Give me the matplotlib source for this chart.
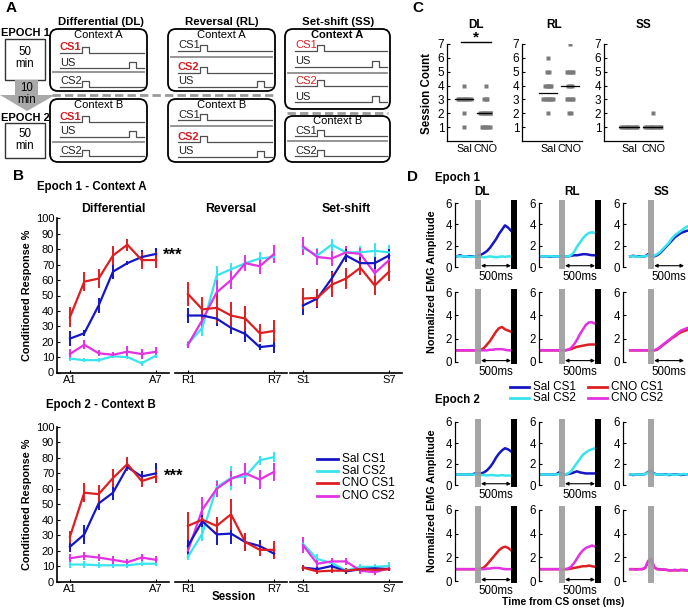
import numpy as np
import matplotlib
matplotlib.use('Agg')
import matplotlib.pyplot as plt
from matplotlib.patches import FancyBboxPatch, Rectangle, Polygon

plt.rcParams['font.family'] = ['Liberation Sans', 'DejaVu Sans']

# ---------------- DATA ----------------
SESSIONS = [1, 2, 3, 4, 5, 6, 7]
BLOCK_TICKS = [['A1', 'A7'], ['R1', 'R7'], ['S1', 'S7']]
BLOCK_TITLES = ['Differential', 'Reversal', 'Set-shift']
SERIES = ['Sal CS1', 'Sal CS2', 'CNO CS1', 'CNO CS2']

# Epoch 1 - Context A
E1_DIFF_SAL1 = [22, 25.5, 43.5, 65.5, 71, 75, 77]
E1_DIFF_SAL1_SEM = [5, 2, 5, 5, 1.5, 4.5, 4]
E1_DIFF_SAL2 = [9, 8, 8, 10.5, 10, 6, 11]
E1_DIFF_SAL2_SEM = [1.5, 1.5, 1.5, 1, 1, 1.5, 1.5]
E1_DIFF_CNO1 = [36, 59, 61, 76, 83, 73, 73]
E1_DIFF_CNO1_SEM = [6.5, 6, 6, 6, 4, 5.5, 5]
E1_DIFF_CNO2 = [12, 18, 12.5, 11.5, 13.5, 12, 13.5]
E1_DIFF_CNO2_SEM = [3, 3, 2, 1.5, 3.5, 3, 3]

E1_REV_SAL1 = [37, 37, 35, 29, 25, 16.5, 17.5]
E1_REV_SAL1_SEM = [5, 4, 4.5, 4, 5, 2, 5]
E1_REV_SAL2 = [18.5, 29, 63, 67, 71, 74, 75]
E1_REV_SAL2_SEM = [2, 5, 6, 4, 2, 4, 4]
E1_REV_CNO1 = [51, 41, 42, 37, 35, 25.5, 27]
E1_REV_CNO1_SEM = [8, 8, 10, 9, 8, 6, 7]
E1_REV_CNO2 = [18, 34, 52, 60, 71, 69, 77]
E1_REV_CNO2_SEM = [2, 5, 8, 6, 5, 5, 6]

E1_SS_SAL1 = [43.5, 48, 61, 76, 71, 71, 76]
E1_SS_SAL1_SEM = [6, 6, 5, 4, 4, 4, 4]
E1_SS_SAL2 = [81, 76, 83, 78, 78, 79, 78]
E1_SS_SAL2_SEM = [4, 5, 4, 4, 4, 5, 5]
E1_SS_CNO1 = [48, 48.5, 57, 61, 68, 56.5, 65.5]
E1_SS_CNO1_SEM = [7, 6, 8, 7, 5, 6, 6]
E1_SS_CNO2 = [82, 75, 74, 78, 77, 64.5, 73]
E1_SS_CNO2_SEM = [6, 5, 5, 4, 4, 5, 5]

# Epoch 2 - Context B
E2_DIFF_SAL1 = [22.5, 30.5, 50.5, 57.5, 74, 68, 70]
E2_DIFF_SAL1_SEM = [3.5, 6, 4, 4.5, 2.5, 3.5, 6.5]
E2_DIFF_SAL2 = [11, 11, 10.5, 10.5, 10.5, 11.5, 11.5]
E2_DIFF_SAL2_SEM = [2, 2, 2, 2, 1.5, 1.5, 1.5]
E2_DIFF_CNO1 = [29, 57.5, 56.5, 67, 76, 65, 68]
E2_DIFF_CNO1_SEM = [4, 6, 6, 6, 4.5, 4, 4]
E2_DIFF_CNO2 = [15, 16.5, 15.5, 14, 12.5, 15.5, 14]
E2_DIFF_CNO2_SEM = [2.5, 2.5, 2.5, 2.5, 2, 2.5, 2.5]

E2_REV_SAL1 = [23, 39, 30.5, 31, 25.5, 23, 18]
E2_REV_SAL1_SEM = [5, 4, 7, 7, 6, 4, 3]
E2_REV_SAL2 = [16, 31, 61, 67, 68, 78.5, 80.5]
E2_REV_SAL2_SEM = [2, 5, 5, 8, 4, 3, 3]
E2_REV_CNO1 = [36, 40, 36, 43.5, 25.5, 20.5, 20.5]
E2_REV_CNO1_SEM = [9, 2, 6, 10, 6, 4, 6]
E2_REV_CNO2 = [20, 46.5, 60, 66.5, 70, 66, 71]
E2_REV_CNO2_SEM = [3, 8, 5, 5, 7, 6, 6]

E2_SS_SAL1 = [9, 8, 10, 6.5, 8, 8.5, 8]
E2_SS_SAL1_SEM = [2, 1.5, 1.5, 1.5, 1.5, 1.5, 1.5]
E2_SS_SAL2 = [24.5, 14.5, 12, 7, 9.5, 9.5, 10]
E2_SS_SAL2_SEM = [4, 3.5, 2, 2, 2, 2, 2.5]
E2_SS_CNO1 = [9, 6.5, 7, 7, 8, 7.5, 8]
E2_SS_CNO1_SEM = [2, 1.5, 1.5, 1.5, 1.5, 1.5, 1.5]
E2_SS_CNO2 = [23.5, 11.5, 13, 13, 7, 6, 8.5]
E2_SS_CNO2_SEM = [5, 3.5, 2.5, 2.5, 2, 2, 2]

# Panel C: session count per animal
C_GROUPS = ['Sal', 'CNO']
C_DL_SAL = [1, 2, 3, 3, 3, 3, 3, 3, 3, 3, 3, 4]
C_DL_CNO = [1, 1, 1, 1, 1, 1, 2, 2, 2, 2, 2, 2, 2, 2, 3, 3, 3, 4]
C_RL_SAL = [2, 3, 3, 3, 3, 3, 3, 3, 4, 4, 4, 4, 4, 5, 5, 6]
C_RL_CNO = [2, 2, 3, 3, 3, 3, 3, 4, 4, 4, 5, 5, 5, 5, 5, 7]
C_SS_SAL = [1, 1, 1, 1, 1, 1, 1, 1, 1, 1]
C_SS_CNO = [1, 1, 1, 1, 1, 1, 1, 1, 1, 1, 2]

# Panel D: normalized EMG traces (time in ms from CS onset)
T_D = [-300, -250, -200, -150, -100, -50, 0, 50, 100, 150, 200, 250, 300, 350,
       400, 450, 500, 550, 600]
T_D_SS = T_D + [650, 700]

D_E1_DL_SAL1 = [1.0, 1.1, 1.0, 1.0, 1.0, 1.0, 1.0, 1.05, 1.15, 1.3, 1.5, 1.8, 2.2, 2.6, 3.1, 3.5, 3.9, 3.7, 3.4]
D_E1_DL_SAL2 = [1.0, 1.0, 1.0, 1.0, 0.95, 0.95, 1.0, 0.95, 0.95, 0.9, 0.95, 1.0, 0.95, 0.9, 0.95, 1.0, 0.95, 1.0, 1.0]
D_E1_RL_SAL1 = [1.0, 1.0, 1.0, 0.95, 1.0, 1.0, 1.0, 1.0, 1.0, 1.0, 1.05, 1.1, 1.1, 1.15, 1.2, 1.2, 1.15, 1.1, 1.1]
D_E1_RL_SAL2 = [1.0, 1.0, 1.0, 1.0, 1.0, 1.0, 1.0, 1.0, 1.0, 1.0, 1.1, 1.4, 1.9, 2.3, 2.7, 3.0, 3.2, 3.25, 3.2]
D_E1_SS_SAL1 = [1.0, 1.05, 1.0, 1.0, 1.0, 1.0, 1.2, 1.0, 1.0, 1.1, 1.3, 1.6, 1.9, 2.2, 2.5, 2.8, 3.0, 3.2, 3.3, 3.4, 3.4]
D_E1_SS_SAL2 = [1.0, 1.0, 1.0, 0.95, 1.0, 1.0, 1.1, 1.0, 1.05, 1.2, 1.4, 1.7, 2.0, 2.3, 2.7, 3.0, 3.2, 3.4, 3.6, 3.8, 3.8]

D_E1_DL_CNO1 = [1.0, 1.0, 1.0, 1.0, 1.0, 1.0, 1.0, 1.0, 1.05, 1.2, 1.5, 1.8, 2.2, 2.6, 2.9, 3.0, 2.8, 2.7, 2.6]
D_E1_DL_CNO2 = [1.0, 1.0, 1.0, 1.0, 1.0, 1.0, 1.0, 1.0, 1.0, 1.0, 1.0, 1.05, 1.05, 1.1, 1.1, 1.1, 1.05, 1.0, 1.0]
D_E1_RL_CNO1 = [1.0, 1.0, 1.0, 1.0, 1.0, 1.0, 1.0, 1.0, 1.0, 1.05, 1.1, 1.2, 1.3, 1.35, 1.4, 1.45, 1.5, 1.5, 1.5]
D_E1_RL_CNO2 = [1.0, 1.0, 1.0, 1.0, 1.0, 1.0, 1.0, 1.0, 1.0, 1.05, 1.2, 1.5, 1.9, 2.4, 2.8, 3.2, 3.4, 3.4, 3.3]
D_E1_SS_CNO1 = [1.0, 1.0, 1.0, 1.0, 1.0, 1.0, 1.0, 1.0, 1.0, 1.05, 1.25, 1.45, 1.65, 1.85, 2.05, 2.2, 2.4, 2.55, 2.65, 2.75, 2.8]
D_E1_SS_CNO2 = [1.0, 1.0, 1.0, 1.0, 1.0, 1.0, 1.0, 1.0, 1.0, 1.1, 1.3, 1.5, 1.7, 1.9, 2.1, 2.3, 2.5, 2.7, 2.8, 2.9, 3.0]

D_E2_DL_SAL1 = [1.0, 1.0, 1.0, 1.0, 1.0, 1.0, 1.1, 1.1, 1.1, 1.2, 1.4, 1.7, 2.1, 2.6, 3.0, 3.3, 3.5, 3.4, 3.2]
D_E2_DL_SAL2 = [1.0, 1.0, 1.0, 1.0, 1.0, 1.0, 1.0, 1.0, 0.95, 0.95, 0.9, 0.95, 0.95, 0.9, 0.9, 0.95, 0.9, 0.9, 0.9]
D_E2_RL_SAL1 = [1.0, 1.0, 1.0, 1.0, 1.0, 1.0, 1.2, 1.05, 1.0, 1.05, 1.1, 1.2, 1.3, 1.2, 1.15, 1.1, 1.1, 1.1, 1.1]
D_E2_RL_SAL2 = [1.0, 1.0, 1.0, 1.0, 1.0, 1.0, 1.05, 1.0, 1.0, 1.1, 1.3, 1.7, 2.1, 2.5, 2.9, 3.1, 3.3, 3.4, 3.5]
D_E2_SS_SAL1 = [1.0, 0.95, 1.0, 1.0, 1.0, 1.05, 1.25, 1.35, 1.1, 1.0, 1.0, 1.0, 1.0, 0.95, 1.0, 1.0, 1.0, 0.95, 1.0, 1.0, 1.0]
D_E2_SS_SAL2 = [1.0, 1.0, 1.0, 1.0, 1.0, 1.05, 1.2, 1.3, 1.05, 1.0, 1.0, 1.0, 0.95, 1.0, 1.0, 0.95, 1.0, 1.0, 1.05, 1.0, 1.0]

D_E2_DL_CNO1 = [1.0, 1.0, 1.0, 1.0, 1.0, 1.0, 1.0, 1.0, 1.05, 1.15, 1.4, 1.7, 2.0, 2.3, 2.6, 2.8, 2.9, 2.8, 2.6]
D_E2_DL_CNO2 = [1.0, 1.0, 1.0, 1.0, 1.0, 1.0, 1.0, 1.0, 1.0, 1.0, 1.05, 1.05, 1.1, 1.1, 1.1, 1.05, 1.0, 1.0, 1.0]
D_E2_RL_CNO1 = [1.0, 1.0, 1.0, 1.0, 1.0, 1.0, 1.0, 1.0, 1.0, 1.0, 1.05, 1.1, 1.15, 1.2, 1.25, 1.25, 1.3, 1.25, 1.2]
D_E2_RL_CNO2 = [1.0, 1.0, 1.0, 1.0, 1.0, 1.0, 1.0, 1.0, 1.0, 1.05, 1.2, 1.5, 1.9, 2.3, 2.6, 2.8, 2.9, 3.0, 2.9]
D_E2_SS_CNO1 = [1.0, 1.0, 1.0, 1.0, 1.0, 1.1, 1.6, 1.8, 1.15, 1.0, 1.0, 0.95, 0.95, 0.9, 0.9, 0.9, 0.9, 0.95, 0.9, 0.9, 0.9]
D_E2_SS_CNO2 = [1.0, 1.0, 0.95, 1.0, 1.0, 1.1, 1.7, 1.9, 1.2, 1.0, 0.95, 1.0, 0.95, 0.9, 0.9, 0.95, 0.9, 0.9, 0.95, 0.9, 0.9]

# ---------------- STYLE ----------------
COL = {'Sal CS1': '#1616c4', 'Sal CS2': '#38e4ee',
       'CNO CS1': '#dc1f23', 'CNO CS2': '#e232e2'}
FS = 8
FSA = 8  # schematic text

W, H = 688, 609
fig = plt.figure(figsize=(W / 100, H / 100), dpi=100)

ov = fig.add_axes([0, 0, 1, 1])
ov.set_xlim(0, W)
ov.set_ylim(H, 0)
ov.axis('off')


def px_axes(l, t, r, b):
    ax = fig.add_axes([l / W, 1 - b / H, (r - l) / W, (b - t) / H])
    ax.set_facecolor('none')
    return ax


def T(x, y, s, **kw):
    kw.setdefault('fontsize', FS)
    kw.setdefault('ha', 'center')
    kw.setdefault('va', 'center')
    ov.text(x, y, s, **kw)


# ---------------- PANEL A ----------------
T(6, 8, 'A', fontsize=11, fontweight='bold', ha='left')
T(101, 22, 'Differential (DL)', fontsize=8.2, fontweight='bold')
T(222, 22, 'Reversal (RL)', fontsize=8.2, fontweight='bold')
T(338, 22, 'Set-shift (SS)', fontsize=8.2, fontweight='bold')

T(1, 33, 'EPOCH 1', fontsize=8, fontweight='bold', ha='left')
ov.add_patch(Rectangle((5, 39), 40, 41, fill=False, ec='#333333', lw=1))
T(25, 52, '50', fontsize=8.3)
T(25, 64, 'min', fontsize=8.3)
ov.add_patch(Polygon([(15, 80), (38, 80), (38, 95), (55, 95), (27, 111), (0, 95), (15, 95)],
                     closed=True, fc='#a9a9a9', ec='none'))
T(27, 88, '10', fontsize=8.3)
T(27, 100, 'min', fontsize=8.3)
T(1, 118, 'EPOCH 2', fontsize=8, fontweight='bold', ha='left')
ov.add_patch(Rectangle((5, 123), 40, 35, fill=False, ec='#333333', lw=1))
T(25, 134, '50', fontsize=8.3)
T(25, 146, 'min', fontsize=8.3)


def ctx_box(x0, y0, x1, y1, title, rows, seps, tbold=False, ty=6):
    ov.add_patch(FancyBboxPatch((x0, y0), x1 - x0, y1 - y0,
                                boxstyle='round,pad=0,rounding_size=8',
                                fc='none', ec='black', lw=1.3))
    T((x0 + x1) / 2, y0 + ty, title, fontsize=FSA, fontweight='bold' if tbold else 'normal')
    tx = x0 + 10
    xe = x1 - 3
    for (lab, yb, kind, col, bold) in rows:
        ov.text(tx, yb - 0.5, lab, fontsize=FSA, color=col,
                fontweight='bold' if bold else 'normal', ha='left', va='bottom')
        if kind == 'cs':
            px0, pw = x0 + 32, 7
        else:
            px0, pw = x1 - 18, 7
        xs = [tx, px0, px0, px0 + pw, px0 + pw, xe]
        ys = [yb, yb, yb - 6, yb - 6, yb, yb]
        ov.plot(xs, ys, color='#505050', lw=0.9)
    for ys in seps:
        ov.plot([x0 + 3, x1 - 3], [ys, ys], color='#8c8c8c', lw=1.3)


RED = '#d42026'
K = '#222222'
ctx_box(50, 29, 147, 91, 'Context A',
        [('CS1', 53, 'cs', RED, True), ('US', 68, 'us', K, False), ('CS2', 87, 'cs', K, False)], [72])
ctx_box(50, 99, 147, 162, 'Context B',
        [('CS1', 122, 'cs', RED, True), ('US', 137, 'us', K, False), ('CS2', 156, 'cs', K, False)], [142])
ctx_box(168, 29, 275, 91, 'Context A',
        [('CS1', 51, 'cs', K, False), ('CS2', 73, 'cs', RED, True), ('US', 87, 'us', K, False)], [57])
ctx_box(168, 99, 275, 162, 'Context B',
        [('CS1', 120, 'cs', K, False), ('CS2', 142, 'cs', RED, True), ('US', 157, 'us', K, False)], [126])
ctx_box(285, 29, 390, 109, 'Context A',
        [('CS1', 51, 'cs', RED, False), ('US', 67, 'us', K, False),
         ('CS2', 86, 'cs', RED, False), ('US', 102, 'us', K, False)], [73], tbold=True, ty=5.5)
ctx_box(285, 116, 390, 162, 'Context B',
        [('CS1', 136, 'cs', K, False), ('CS2', 156, 'cs', K, False)], [141], ty=5.5)
ov.plot([52, 273], [95, 95], color='#9a9a9a', lw=2, dashes=(3, 1.5))
ov.plot([287, 388], [112.5, 112.5], color='#9a9a9a', lw=2, dashes=(3, 1.5))

# ---------------- PANEL B ----------------
T(13, 176, 'B', fontsize=11, fontweight='bold', ha='left')
T(37, 187, 'Epoch 1 - Context A', fontsize=8.3, fontweight='bold', ha='left')
T(46, 405, 'Epoch 2 - Context B', fontsize=8.3, fontweight='bold', ha='left')

E1 = [
    {'Sal CS1': (E1_DIFF_SAL1, E1_DIFF_SAL1_SEM), 'Sal CS2': (E1_DIFF_SAL2, E1_DIFF_SAL2_SEM),
     'CNO CS1': (E1_DIFF_CNO1, E1_DIFF_CNO1_SEM), 'CNO CS2': (E1_DIFF_CNO2, E1_DIFF_CNO2_SEM)},
    {'Sal CS1': (E1_REV_SAL1, E1_REV_SAL1_SEM), 'Sal CS2': (E1_REV_SAL2, E1_REV_SAL2_SEM),
     'CNO CS1': (E1_REV_CNO1, E1_REV_CNO1_SEM), 'CNO CS2': (E1_REV_CNO2, E1_REV_CNO2_SEM)},
    {'Sal CS1': (E1_SS_SAL1, E1_SS_SAL1_SEM), 'Sal CS2': (E1_SS_SAL2, E1_SS_SAL2_SEM),
     'CNO CS1': (E1_SS_CNO1, E1_SS_CNO1_SEM), 'CNO CS2': (E1_SS_CNO2, E1_SS_CNO2_SEM)},
]
E2 = [
    {'Sal CS1': (E2_DIFF_SAL1, E2_DIFF_SAL1_SEM), 'Sal CS2': (E2_DIFF_SAL2, E2_DIFF_SAL2_SEM),
     'CNO CS1': (E2_DIFF_CNO1, E2_DIFF_CNO1_SEM), 'CNO CS2': (E2_DIFF_CNO2, E2_DIFF_CNO2_SEM)},
    {'Sal CS1': (E2_REV_SAL1, E2_REV_SAL1_SEM), 'Sal CS2': (E2_REV_SAL2, E2_REV_SAL2_SEM),
     'CNO CS1': (E2_REV_CNO1, E2_REV_CNO1_SEM), 'CNO CS2': (E2_REV_CNO2, E2_REV_CNO2_SEM)},
    {'Sal CS1': (E2_SS_SAL1, E2_SS_SAL1_SEM), 'Sal CS2': (E2_SS_SAL2, E2_SS_SAL2_SEM),
     'CNO CS1': (E2_SS_CNO1, E2_SS_CNO1_SEM), 'CNO CS2': (E2_SS_CNO2, E2_SS_CNO2_SEM)},
]


def draw_B(top, bottom, data, titles):
    lefts = [57, 175, 290]
    for i in range(3):
        ax = px_axes(lefts[i], top, lefts[i] + 112, bottom)
        for key in ['Sal CS2', 'CNO CS2', 'Sal CS1', 'CNO CS1']:
            v, e = data[i][key]
            ax.errorbar(SESSIONS, v, yerr=e, color=COL[key], lw=1.6, elinewidth=1.4, capsize=0)
        ax.set_xlim(0.1, 7.9)
        ax.set_ylim(0, 100)
        for s in ['top', 'right']:
            ax.spines[s].set_visible(False)
        ax.spines['bottom'].set_linewidth(1.2)
        ax.spines['left'].set_linewidth(1.2)
        ax.set_xticks([1, 7])
        ax.set_xticklabels(BLOCK_TICKS[i])
        if i == 0:
            ax.set_yticks(range(0, 101, 10))
            ax.tick_params(axis='y', direction='in', length=2.5, width=0.8, labelsize=FS, pad=2)
        else:
            ax.spines['left'].set_visible(False)
            ax.set_yticks([])
        ax.tick_params(axis='x', direction='in', length=2.5, width=0.8, labelsize=FS, pad=2)
        if titles:
            ov.text(lefts[i] + 56, 209, BLOCK_TITLES[i], fontsize=8.8, fontweight='bold',
                    ha='center', va='center')


draw_B(218.5, 372.5, E1, True)
draw_B(427, 581.5, E2, False)
T(27, 295, 'Conditioned Response %', rotation=90, fontsize=7.8, fontweight='bold')
T(27, 504, 'Conditioned Response %', rotation=90, fontsize=7.8, fontweight='bold')
T(173, 255, '***', fontsize=12, fontweight='bold')
T(174, 476, '***', fontsize=12, fontweight='bold')
T(234, 597, 'Session', fontsize=8.3, fontweight='bold')
for j, key in enumerate(SERIES):
    yy = [459, 471, 483, 496][j]
    ov.plot([317, 338], [yy, yy], color=COL[key], lw=2)
    ov.text(342, yy, key, fontsize=8.6, ha='left', va='center')

# ---------------- PANEL C ----------------
T(412, 8, 'C', fontsize=11, fontweight='bold', ha='left')


def draw_C(l, r, xl, vs, vc, title, tx):
    ax = px_axes(l, 44, r, 141)
    for xi, vals in ((1, vs), (2, vc)):
        vals = np.asarray(vals)
        for v in np.unique(vals):
            n = int((vals == v).sum())
            offs = (np.arange(n) - (n - 1) / 2) * 0.075
            ax.plot(xi + offs, np.full(n, v), 's', ms=2.3, color='#7a7a7a', mec='none')
        med = np.median(vals)
        ax.plot([xi - 0.42, xi + 0.42], [med, med], color='k', lw=0.9)
    ax.set_xlim(*xl)
    ax.set_ylim(0, 7)
    for s in ['top', 'right']:
        ax.spines[s].set_visible(False)
    ax.spines['left'].set_linewidth(0.9)
    ax.spines['bottom'].set_linewidth(0.9)
    ax.set_yticks(range(1, 8))
    ax.set_xticks([1, 2])
    ax.set_xticklabels(C_GROUPS)
    ax.tick_params(direction='in', length=2.5, width=0.8, labelsize=8.5, pad=2)
    ax.tick_params(axis='x', length=0, labelsize=7.8)
    T(tx, 25, title, fontsize=8.5, fontweight='bold')


draw_C(447, 492, (0.2, 2.3), C_DL_SAL, C_DL_CNO, 'DL', 476)
draw_C(522, 582, (-0.2, 2.55), C_RL_SAL, C_RL_CNO, 'RL', 554)
draw_C(604, 663, (-0.05, 2.4), C_SS_SAL, C_SS_CNO, 'SS', 643)
T(427, 93, 'Session Count', rotation=90, fontsize=8.3, fontweight='bold')
ov.plot([461, 491], [42, 42], color='k', lw=1)
T(476, 37, '*', fontsize=11, fontweight='bold')

# ---------------- PANEL D ----------------
T(407, 177, 'D', fontsize=11, fontweight='bold', ha='left')
T(435, 178, 'Epoch 1', fontsize=8.3, fontweight='bold', ha='left')
T(435, 400, 'Epoch 2', fontsize=8.3, fontweight='bold', ha='left')
T(482, 192, 'DL', fontsize=8.5, fontweight='bold')
T(572, 192, 'RL', fontsize=8.5, fontweight='bold')
T(662, 192, 'SS', fontsize=8.5, fontweight='bold')

D_ROWS = [(203, 267), (292, 362), (422, 485), (510, 581)]
D_COLS = [(455, 62, -333), (539, 62, -333), (623, 67, -420)]
D_DATA = [
    [(D_E1_DL_SAL1, D_E1_DL_SAL2), (D_E1_RL_SAL1, D_E1_RL_SAL2), (D_E1_SS_SAL1, D_E1_SS_SAL2)],
    [(D_E1_DL_CNO1, D_E1_DL_CNO2), (D_E1_RL_CNO1, D_E1_RL_CNO2), (D_E1_SS_CNO1, D_E1_SS_CNO2)],
    [(D_E2_DL_SAL1, D_E2_DL_SAL2), (D_E2_RL_SAL1, D_E2_RL_SAL2), (D_E2_SS_SAL1, D_E2_SS_SAL2)],
    [(D_E2_DL_CNO1, D_E2_DL_CNO2), (D_E2_RL_CNO1, D_E2_RL_CNO2), (D_E2_SS_CNO1, D_E2_SS_CNO2)],
]
for r, (ytop, ybot) in enumerate(D_ROWS):
    keys = ('Sal CS1', 'Sal CS2') if r in (0, 2) else ('CNO CS1', 'CNO CS2')
    for c, (l, w, xmin) in enumerate(D_COLS):
        ax = px_axes(l, ytop, l + w, ybot)
        t = T_D_SS if c == 2 else T_D
        a, b = D_DATA[r][c]
        ax.plot(t, a, color=COL[keys[0]], lw=1.8, zorder=2)
        ax.plot(t, b, color=COL[keys[1]], lw=1.8, zorder=2)
        ax.set_xlim(xmin, 700)
        ax.set_ylim(0, 6)
        ax.add_patch(Rectangle((0, -0.15), 100, 6.45, fc='#9b9b9b', ec='none',
                               alpha=0.9, zorder=3, clip_on=False))
        if c < 2:
            ax.add_patch(Rectangle((600, -0.15), 100, 6.45, fc='black', ec='none',
                                   zorder=3, clip_on=False))
        if r < 2 or c < 2:
            ax.annotate('', xy=(600, 0.12), xytext=(100, 0.12),
                        arrowprops=dict(arrowstyle='<|-|>', color='k', lw=0.8,
                                        mutation_scale=5, shrinkA=0, shrinkB=0),
                        annotation_clip=False)
            xpx = l + (350 - xmin) * w / (700 - xmin)
            ov.text(xpx, ybot + 10, '500ms', fontsize=8.3, ha='center', va='center')
        for s in ['top', 'right', 'bottom']:
            ax.spines[s].set_visible(False)
        ax.spines['left'].set_bounds(0, 6)
        ax.spines['left'].set_linewidth(0.9)
        ax.set_xticks([])
        ax.set_yticks([0, 2, 4, 6])
        ax.tick_params(axis='y', direction='in', length=2.5, width=0.8, labelsize=8.3, pad=2)

T(432, 282, 'Normalized EMG Amplitude', rotation=90, fontsize=7.8, fontweight='bold')
T(432, 501, 'Normalized EMG Amplitude', rotation=90, fontsize=7.8, fontweight='bold')
T(563, 602, 'Time from CS onset (ms)', fontsize=7.5, fontweight='bold')
for key, (x0, yy) in zip(SERIES, [(510, 387), (510, 398), (588, 387), (588, 398)]):
    ov.plot([x0, x0 + 19], [yy, yy], color=COL[key], lw=2)
    ov.text(x0 + 23, yy, key, fontsize=8.5, ha='left', va='center')

fig.savefig('out.png', dpi=100)
